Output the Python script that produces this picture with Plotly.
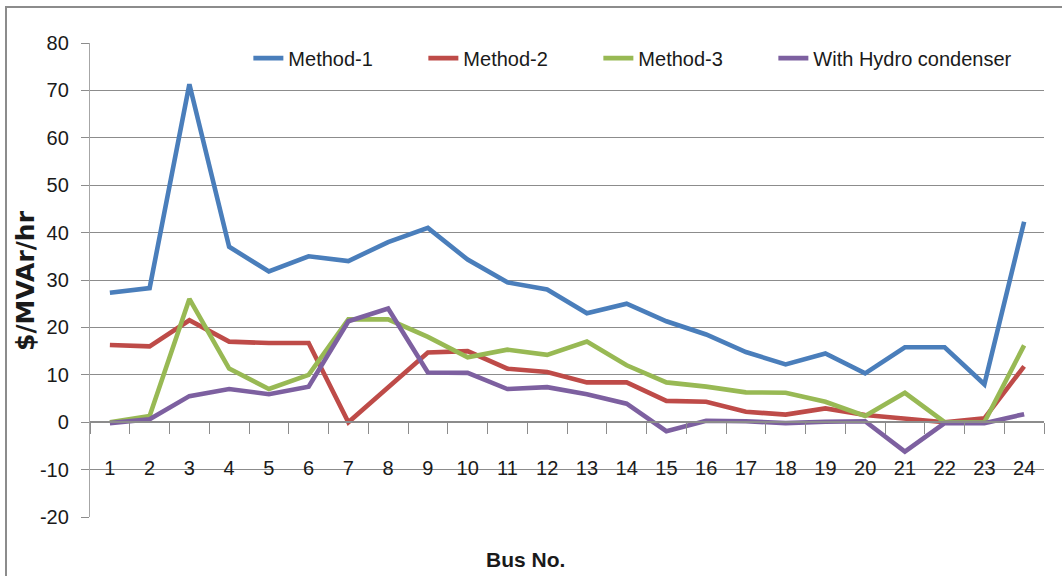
import plotly.graph_objects as go

# Bus numbers on the category axis
buses = [str(i) for i in range(1, 25)]

# Reactive power cost per bus ($/MVAr/hr)
method_1 = [27.3, 28.3, 71.3, 37.0, 31.8, 35.0, 34.0, 38.0, 41.0, 34.3, 29.5, 28.0,
            23.0, 25.0, 21.3, 18.5, 14.8, 12.2, 14.5, 10.3, 15.8, 15.8, 8.0, 42.3]
method_2 = [16.3, 16.0, 21.5, 17.0, 16.7, 16.7, 0.0, 7.5, 14.7, 15.0, 11.3, 10.6,
            8.4, 8.4, 4.5, 4.3, 2.2, 1.6, 2.9, 1.5, 0.7, 0.0, 0.8, 11.8]
method_3 = [0.0, 1.3, 26.0, 11.3, 7.0, 10.0, 21.7, 21.7, 18.0, 13.7, 15.3, 14.2,
            17.0, 12.0, 8.4, 7.5, 6.3, 6.2, 4.3, 1.3, 6.2, 0.0, 0.0, 16.2]
hydro_condenser = [-0.2, 0.6, 5.5, 7.0, 5.9, 7.5, 21.3, 24.0, 10.5, 10.4, 7.0, 7.4,
                   5.9, 3.9, -1.9, 0.3, 0.2, -0.2, 0.1, 0.2, -6.2, -0.2, -0.2, 1.7]

series = [
    ("Method-1", method_1, "#4A7EBB", 130),
    ("Method-2", method_2, "#BE4B48", 130),
    ("Method-3", method_3, "#98B954", 130),
    ("With Hydro condenser", hydro_condenser, "#7D60A0", 215),
]

y_ticks = [-20, -10, 0, 10, 20, 30, 40, 50, 60, 70, 80]
y_tick_text = [str(v) for v in y_ticks]

FONT = "Liberation Sans, Arial, sans-serif"
INK = "#1a1a1a"

fig = go.Figure()
for name, vals, color, entry_w in series:
    fig.add_trace(go.Scatter(
        x=buses, y=vals, name=name, mode="lines",
        line=dict(color=color, width=4.6),
        legendwidth=entry_w,
    ))

fig.update_layout(
    width=1062, height=576,
    margin=dict(l=90, r=18, t=43, b=59, autoexpand=False),
    paper_bgcolor="white", plot_bgcolor="white",
    font=dict(family=FONT, size=20, color=INK),
    legend=dict(
        orientation="h", x=0.166, xanchor="left", y=0.968, yanchor="middle",
        entrywidthmode="pixels",
        font=dict(family=FONT, size=20, color=INK),
        bgcolor="rgba(0,0,0,0)",
    ),
    xaxis=dict(
        type="category", range=[-0.5, 23.5],
        anchor="free", position=0.2, automargin=False,
        showline=True, linecolor="#8c8c8c", linewidth=1.5,
        ticks="outside", ticklen=11, tickcolor="#8c8c8c", tickwidth=1.3,
        tickson="boundaries", showgrid=False, zeroline=False,
        ticklabelstandoff=28,
        tickfont=dict(family=FONT, size=20, color=INK),
    ),
    yaxis=dict(
        range=[-20, 80], tickvals=y_ticks, ticktext=y_tick_text,
        automargin=False,
        showgrid=True, gridcolor="#8c8c8c", gridwidth=1.4,
        zeroline=False,
        showline=True, linecolor="#a6a6a6", linewidth=1.3,
        ticks="outside", ticklen=8, tickcolor="#8c8c8c",
        ticklabelstandoff=8,
        tickfont=dict(family=FONT, size=20, color=INK),
    ),
    annotations=[
        dict(
            text="Bus No.", xref="paper", yref="paper",
            x=(525 - 90) / 954, y=(517 - 559) / 474,
            xanchor="center", yanchor="middle", showarrow=False,
            font=dict(family=FONT, size=21, color=INK, weight="bold"),
        ),
        dict(
            text="$/MVAr/hr", xref="paper", yref="paper",
            x=(25 - 90) / 954, y=(517 - 281) / 474,
            xanchor="center", yanchor="middle", showarrow=False, textangle=-90,
            font=dict(family="DejaVu Sans", size=25, color=INK, weight="bold"),
        ),
    ],
    shapes=[dict(
        type="rect", xref="paper", yref="paper",
        x0=(6 - 90) / 954, x1=1.05, y0=-0.2, y1=(517 - 7) / 474,
        line=dict(color="#8c8c8c", width=2), layer="below",
    )],
)

fig.write_html("out.html")
